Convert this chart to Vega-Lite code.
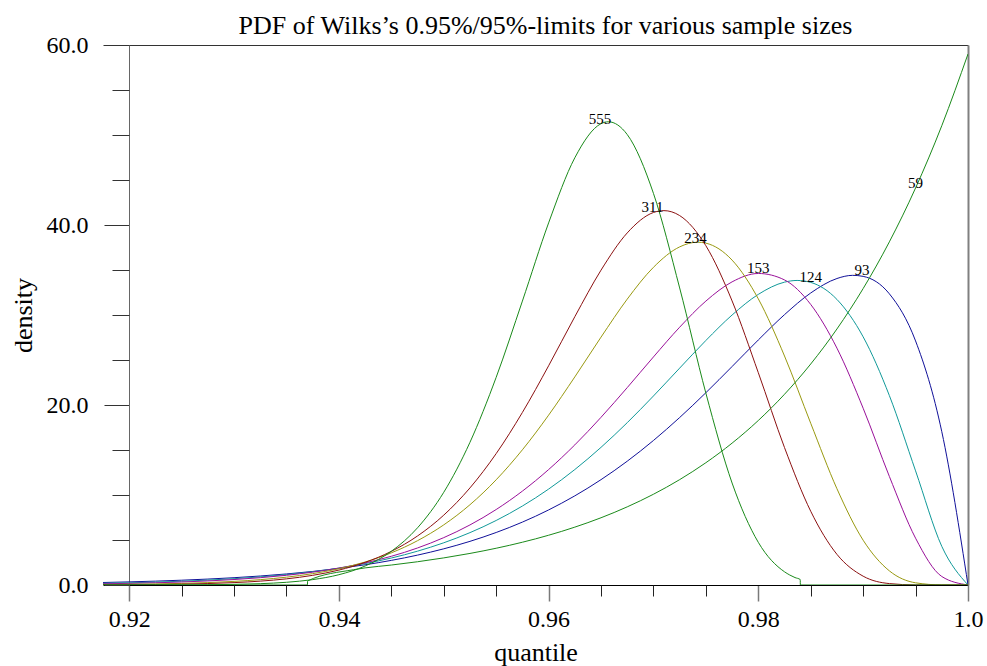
{
  "$schema": "https://vega.github.io/schema/vega-lite/v6.json",
  "width": 865,
  "height": 540,
  "autosize": {"type": "none"},
  "padding": {"left": 103, "top": 45, "right": 19, "bottom": 81},
  "background": "white",
  "config": {"view": {"stroke": null}, "font": "Liberation Serif"},
  "title": {"text": "PDF of Wilks’s 0.95%/95%-limits for various sample sizes", "font": "Liberation Serif", "fontSize": 26, "fontWeight": "normal", "color": "#000", "offset": -6, "dx": 10},
  "datasets": {
    "curves": [
      {"n":"93","q":0.9175,"d":0.279},{"n":"93","q":0.92,"d":0.347},{"n":"93","q":0.9225,"d":0.430},{"n":"93","q":0.925,"d":0.533},{"n":"93","q":0.9275,"d":0.658},{"n":"93","q":0.93,"d":0.812},{"n":"93","q":0.9325,"d":0.999},{"n":"93","q":0.935,"d":1.228},{"n":"93","q":0.9375,"d":1.505},{"n":"93","q":0.94,"d":1.841},{"n":"93","q":0.9425,"d":2.247},{"n":"93","q":0.945,"d":2.735},{"n":"93","q":0.9475,"d":3.321},{"n":"93","q":0.95,"d":4.020},{"n":"93","q":0.9525,"d":4.850},{"n":"93","q":0.955,"d":5.834},{"n":"93","q":0.9575,"d":6.989},{"n":"93","q":0.96,"d":8.339},{"n":"93","q":0.9625,"d":9.905},{"n":"93","q":0.965,"d":11.706},{"n":"93","q":0.9675,"d":13.756},{"n":"93","q":0.97,"d":16.059},{"n":"93","q":0.9725,"d":18.608},{"n":"93","q":0.975,"d":21.367},{"n":"93","q":0.9775,"d":24.276},{"n":"93","q":0.98,"d":27.225},{"n":"93","q":0.9825,"d":30.039},{"n":"93","q":0.985,"d":32.447},{"n":"93","q":0.9875,"d":34.054},{"n":"93","q":0.989,"d":34.407},{"n":"93","q":0.99,"d":34.292},{"n":"93","q":0.9925,"d":32.354},{"n":"93","q":0.995,"d":27.117},{"n":"93","q":0.9975,"d":17.037},{"n":"93","q":1.0,"d":0},
      {"n":"124","q":0.9175,"d":0.189},{"n":"124","q":0.92,"d":0.247},{"n":"124","q":0.9225,"d":0.322},{"n":"124","q":0.925,"d":0.419},{"n":"124","q":0.9275,"d":0.542},{"n":"124","q":0.93,"d":0.700},{"n":"124","q":0.9325,"d":0.901},{"n":"124","q":0.935,"d":1.155},{"n":"124","q":0.9375,"d":1.476},{"n":"124","q":0.94,"d":1.877},{"n":"124","q":0.9425,"d":2.377},{"n":"124","q":0.945,"d":2.997},{"n":"124","q":0.9475,"d":3.759},{"n":"124","q":0.95,"d":4.690},{"n":"124","q":0.9525,"d":5.818},{"n":"124","q":0.955,"d":7.170},{"n":"124","q":0.9575,"d":8.774},{"n":"124","q":0.96,"d":10.655},{"n":"124","q":0.9625,"d":12.829},{"n":"124","q":0.965,"d":15.296},{"n":"124","q":0.9675,"d":18.036},{"n":"124","q":0.97,"d":21.003},{"n":"124","q":0.9725,"d":24.098},{"n":"124","q":0.975,"d":27.170},{"n":"124","q":0.9775,"d":29.999},{"n":"124","q":0.98,"d":32.291},{"n":"124","q":0.9825,"d":33.650},{"n":"124","q":0.9837,"d":33.84},{"n":"124","q":0.985,"d":33.622},{"n":"124","q":0.9875,"d":31.730},{"n":"124","q":0.99,"d":27.574},{"n":"124","q":0.9925,"d":21.047},{"n":"124","q":0.995,"d":12.682},{"n":"124","q":0.9975,"d":4.295},{"n":"124","q":1.0,"d":0},
      {"n":"153","q":0.9175,"d":0.132},{"n":"153","q":0.92,"d":0.181},{"n":"153","q":0.9225,"d":0.246},{"n":"153","q":0.925,"d":0.334},{"n":"153","q":0.9275,"d":0.451},{"n":"153","q":0.93,"d":0.606},{"n":"153","q":0.9325,"d":0.811},{"n":"153","q":0.935,"d":1.079},{"n":"153","q":0.9375,"d":1.428},{"n":"153","q":0.94,"d":1.879},{"n":"153","q":0.9425,"d":2.457},{"n":"153","q":0.945,"d":3.191},{"n":"153","q":0.9475,"d":4.114},{"n":"153","q":0.95,"d":5.263},{"n":"153","q":0.9525,"d":6.674},{"n":"153","q":0.955,"d":8.387},{"n":"153","q":0.9575,"d":10.431},{"n":"153","q":0.96,"d":12.825},{"n":"153","q":0.9625,"d":15.569},{"n":"153","q":0.965,"d":18.632},{"n":"153","q":0.9675,"d":21.933},{"n":"153","q":0.97,"d":25.342},{"n":"153","q":0.9725,"d":28.644},{"n":"153","q":0.975,"d":31.548},{"n":"153","q":0.9775,"d":33.683},{"n":"153","q":0.98,"d":34.614},{"n":"153","q":0.9825,"d":33.897},{"n":"153","q":0.985,"d":31.171},{"n":"153","q":0.9875,"d":26.317},{"n":"153","q":0.99,"d":19.640},{"n":"153","q":0.9925,"d":12.064},{"n":"153","q":0.995,"d":5.200},{"n":"153","q":0.9975,"d":0.945},{"n":"153","q":1.0,"d":0},
      {"n":"234","q":0.9175,"d":0.050},{"n":"234","q":0.92,"d":0.077},{"n":"234","q":0.9225,"d":0.118},{"n":"234","q":0.925,"d":0.179},{"n":"234","q":0.9275,"d":0.269},{"n":"234","q":0.93,"d":0.402},{"n":"234","q":0.9325,"d":0.594},{"n":"234","q":0.935,"d":0.870},{"n":"234","q":0.9375,"d":1.261},{"n":"234","q":0.94,"d":1.806},{"n":"234","q":0.9425,"d":2.557},{"n":"234","q":0.945,"d":3.573},{"n":"234","q":0.9475,"d":4.924},{"n":"234","q":0.95,"d":6.682},{"n":"234","q":0.9525,"d":8.920},{"n":"234","q":0.955,"d":11.692},{"n":"234","q":0.9575,"d":15.021},{"n":"234","q":0.96,"d":18.870},{"n":"234","q":0.9625,"d":23.122},{"n":"234","q":0.965,"d":27.540},{"n":"234","q":0.9675,"d":31.764},{"n":"234","q":0.97,"d":35.301},{"n":"234","q":0.9725,"d":37.569},{"n":"234","q":0.9742,"d":38.09},{"n":"234","q":0.975,"d":37.982},{"n":"234","q":0.9775,"d":36.099},{"n":"234","q":0.98,"d":31.794},{"n":"234","q":0.9825,"d":25.444},{"n":"234","q":0.985,"d":17.966},{"n":"234","q":0.9875,"d":10.696},{"n":"234","q":0.99,"d":4.977},{"n":"234","q":0.9925,"d":1.571},{"n":"234","q":0.995,"d":0.244},{"n":"234","q":0.9975,"d":0.007},{"n":"234","q":1.0,"d":0},
      {"n":"311","q":0.9175,"d":0.020},{"n":"311","q":0.92,"d":0.034},{"n":"311","q":0.9225,"d":0.058},{"n":"311","q":0.925,"d":0.097},{"n":"311","q":0.9275,"d":0.162},{"n":"311","q":0.93,"d":0.265},{"n":"311","q":0.9325,"d":0.429},{"n":"311","q":0.935,"d":0.684},{"n":"311","q":0.9375,"d":1.073},{"n":"311","q":0.94,"d":1.657},{"n":"311","q":0.9425,"d":2.513},{"n":"311","q":0.945,"d":3.738},{"n":"311","q":0.9475,"d":5.448},{"n":"311","q":0.95,"d":7.761},{"n":"311","q":0.9525,"d":10.789},{"n":"311","q":0.955,"d":14.600},{"n":"311","q":0.9575,"d":19.173},{"n":"311","q":0.96,"d":24.357},{"n":"311","q":0.9625,"d":29.811},{"n":"311","q":0.965,"d":34.984},{"n":"311","q":0.9675,"d":39.121},{"n":"311","q":0.97,"d":41.390},{"n":"311","q":0.971,"d":41.597},{"n":"311","q":0.9725,"d":41.048},{"n":"311","q":0.975,"d":37.696},{"n":"311","q":0.9775,"d":31.564},{"n":"311","q":0.98,"d":23.593},{"n":"311","q":0.9825,"d":15.270},{"n":"311","q":0.985,"d":8.194},{"n":"311","q":0.9875,"d":3.406},{"n":"311","q":0.99,"d":0.979},{"n":"311","q":0.9925,"d":0.157},{"n":"311","q":0.995,"d":0.009},{"n":"311","q":0.9975,"d":0},{"n":"311","q":1.0,"d":0},
      {"n":"555","q":0.9175,"d":0.001},{"n":"555","q":0.92,"d":0.003},{"n":"555","q":0.9225,"d":0.006},{"n":"555","q":0.925,"d":0.015},{"n":"555","q":0.9275,"d":0.032},{"n":"555","q":0.93,"d":0.070},{"n":"555","q":0.9325,"d":0.148},{"n":"555","q":0.935,"d":0.302},{"n":"555","q":0.9375,"d":0.598},{"n":"555","q":0.94,"d":1.144},{"n":"555","q":0.9425,"d":2.111},{"n":"555","q":0.945,"d":3.743},{"n":"555","q":0.9475,"d":6.357},{"n":"555","q":0.95,"d":10.301},{"n":"555","q":0.9525,"d":15.857},{"n":"555","q":0.955,"d":23.077},{"n":"555","q":0.9575,"d":31.546},{"n":"555","q":0.96,"d":40.231},{"n":"555","q":0.9625,"d":47.469},{"n":"555","q":0.965,"d":51.257},{"n":"555","q":0.9657,"d":51.47},{"n":"555","q":0.9675,"d":50.050},{"n":"555","q":0.97,"d":43.510},{"n":"555","q":0.9725,"d":33.005},{"n":"555","q":0.975,"d":21.313},{"n":"555","q":0.9775,"d":11.331},{"n":"555","q":0.98,"d":4.741},{"n":"555","q":0.9825,"d":1.466},{"n":"555","q":0.983,"d":1.109},{"n":"555","q":0.9835,"d":0.826},{"n":"555","q":0.984,"d":0.604},{"n":"555","q":0.98401,"d":0},{"n":"555","q":1.0,"d":0},
      {"n":"59","q":0.9175,"d":0},{"n":"59","q":0.937,"d":0},{"n":"59","q":0.93701,"d":0.45},{"n":"59","q":0.9414,"d":1.7},{"n":"59","q":0.9425,"d":1.902},{"n":"59","q":0.945,"d":2.218},{"n":"59","q":0.9475,"d":2.585},{"n":"59","q":0.95,"d":3.012},{"n":"59","q":0.9525,"d":3.508},{"n":"59","q":0.955,"d":4.084},{"n":"59","q":0.9575,"d":4.752},{"n":"59","q":0.96,"d":5.528},{"n":"59","q":0.9625,"d":6.429},{"n":"59","q":0.965,"d":7.472},{"n":"59","q":0.9675,"d":8.683},{"n":"59","q":0.97,"d":10.084},{"n":"59","q":0.9725,"d":11.708},{"n":"59","q":0.975,"d":13.588},{"n":"59","q":0.9775,"d":15.763},{"n":"59","q":0.98,"d":18.279},{"n":"59","q":0.9825,"d":21.193},{"n":"59","q":0.985,"d":24.556},{"n":"59","q":0.9875,"d":28.449},{"n":"59","q":0.99,"d":32.939},{"n":"59","q":0.9925,"d":38.127},{"n":"59","q":0.995,"d":44.113},{"n":"59","q":0.9975,"d":51.034},{"n":"59","q":1.0,"d":59.0}
    ],
    "labels": [
      {"n":"555","q":0.9649,"d":51.2},
      {"n":"311","q":0.9699,"d":41.4},
      {"n":"234","q":0.9740,"d":38.0},
      {"n":"153","q":0.9800,"d":34.7},
      {"n":"124","q":0.9850,"d":33.7},
      {"n":"93","q":0.9899,"d":34.5},
      {"n":"59","q":0.9950,"d":44.1}
    ]
  },
  "layer": [
    {
      "data": {"name": "curves"},
      "mark": {"type": "line", "interpolate": "monotone", "strokeWidth": 1, "clip": true},
      "encoding": {
        "x": {"field": "q", "type": "quantitative",
          "scale": {"domain": [0.9175, 1.0], "nice": false, "zero": false},
          "axis": {"orient": "bottom", "values": [0.92, 0.94, 0.96, 0.98, 1.0], "tickSize": 16, "tickColor": "#7a7a7a", "tickWidth": 1.5, "domainColor": "#000", "domainWidth": 1, "grid": false,
            "labelFont": "Liberation Serif", "labelFontSize": 24, "labelColor": "#000", "labelPadding": 6, "labelFlush": false, "labelOverlap": false,
            "labelExpr": "datum.value >= 0.999 ? '1.0' : format(datum.value, '.2f')",
            "title": "quantile", "titleFont": "Liberation Serif", "titleFontSize": 26, "titleFontWeight": "normal", "titleColor": "#000", "titlePadding": 8}},
        "y": {"field": "d", "type": "quantitative",
          "scale": {"domain": [0, 60], "nice": false},
          "axis": {"orient": "left", "offset": -26, "values": [0, 20, 40, 60], "format": ".1f", "tickSize": 25, "tickColor": "#333", "domainColor": "#666", "grid": false,
            "labelFont": "Liberation Serif", "labelFontSize": 24, "labelColor": "#000", "labelPadding": 16,
            "title": "density", "titleFont": "Liberation Serif", "titleFontSize": 26, "titleFontWeight": "normal", "titleColor": "#000", "titlePadding": 10}},
        "color": {"field": "n", "type": "nominal",
          "scale": {"domain": ["555", "311", "234", "153", "124", "93", "59"], "range": ["#1a8a1a", "#8b1010", "#999910", "#991099", "#109999", "#101099", "#1a8a1a"]},
          "legend": null}
      }
    },
    {
      "data": {"name": "labels"},
      "mark": {"type": "text", "font": "Liberation Serif", "fontSize": 15, "baseline": "alphabetic", "align": "center", "color": "#000"},
      "encoding": {
        "x": {"field": "q", "type": "quantitative",
          "axis": {"orient": "bottom", "values": [0.925, 0.93, 0.935, 0.945, 0.95, 0.955, 0.965, 0.97, 0.975, 0.985, 0.99, 0.995], "tickSize": 11, "tickColor": "#222", "domain": false, "labels": false, "grid": false, "title": null}},
        "y": {"field": "d", "type": "quantitative",
          "axis": {"orient": "left", "offset": -26, "values": [5, 10, 15, 25, 30, 35, 45, 50, 55], "tickSize": 17, "tickColor": "#333", "domain": false, "labels": false, "grid": false, "title": null}},
        "text": {"field": "n"}
      }
    },
    {
      "data": {"name": "labels"},
      "mark": {"type": "text", "opacity": 0},
      "encoding": {
        "x": {"field": "q", "type": "quantitative",
          "axis": {"orient": "top", "ticks": false, "labels": false, "domain": true, "domainColor": "#333", "grid": false, "title": null}},
        "y": {"field": "d", "type": "quantitative",
          "axis": {"orient": "right", "ticks": false, "labels": false, "domain": true, "domainColor": "#808080", "domainWidth": 2, "grid": false, "title": null}},
        "text": {"field": "n"}
      }
    }
  ],
  "resolve": {"axis": {"x": "independent", "y": "independent"}}
}
